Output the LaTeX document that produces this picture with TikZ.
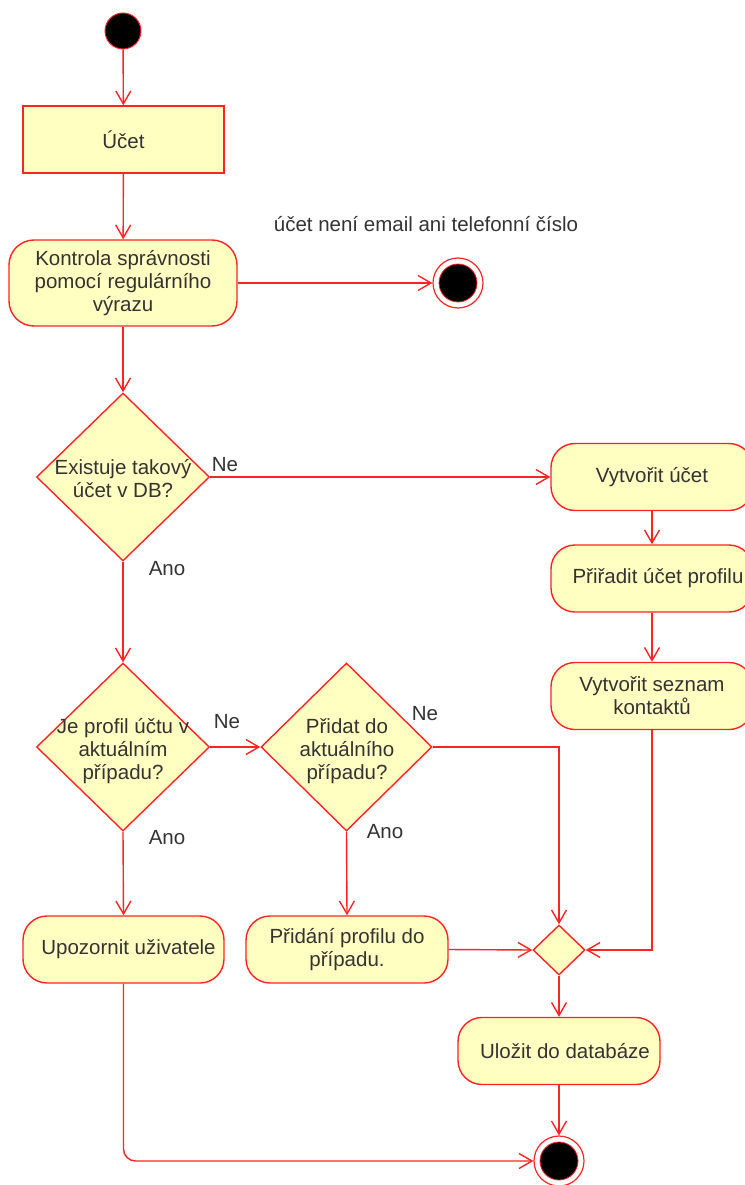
\documentclass[tikz,border=0pt]{standalone}
\usepackage{fontspec}
\setmainfont{Liberation Sans}
\usetikzlibrary{arrows.meta,shapes.geometric,calc}
\definecolor{umlred}{RGB}{255,36,36}
\definecolor{umlfill}{RGB}{255,255,194}
\definecolor{umltext}{RGB}{51,51,51}

\begin{document}
\begin{tikzpicture}[x=1pt,y=-1pt,
  every node/.style={font=\fontsize{20.5}{23}\selectfont, text=umltext},
  flow/.style={draw=umlred, line width=1.4pt,
    -{Straight Barb[length=13pt,width=15pt,line width=1.4pt]}},
  action/.style={draw=umlred, fill=umlfill, line width=1.4pt,
    rounded corners=24pt, minimum width=202pt, minimum height=67pt,
    align=center, inner sep=0pt},
  plainbox/.style={action, rounded corners=0pt},
  decision/.style={diamond, draw=umlred, fill=umlfill, line width=1.4pt,
    minimum width=173pt, minimum height=168pt, inner sep=0pt},
  merger/.style={diamond, draw=umlred, fill=umlfill, line width=1.4pt,
    minimum width=52pt, minimum height=50pt, inner sep=0pt},
  dtext/.style={align=center, inner sep=0pt},
  initial/.style={circle, draw=umlred, fill=black, line width=1pt,
    minimum size=36pt, inner sep=0pt},
  finalring/.style={circle, draw=umlred, fill=white, line width=1.2pt,
    minimum size=50pt, inner sep=0pt},
  finalcore/.style={circle, draw=umlred, fill=black, line width=0.8pt,
    minimum size=38pt, inner sep=0pt},
  guard/.style={inner sep=0pt}
]
\useasboundingbox (0,0) rectangle (744,1185);

% start and first actions
\node[initial] (start) at (123,31) {};
\node[plainbox, minimum width=201pt] (ucet) at (123.5,139.5) {Účet};
\node[action, minimum width=228pt, minimum height=86pt, rounded corners=25pt]
  (kontrola) at (123,283) {Kontrola správnosti\\pomocí regulárního\\výrazu};

% early exit
\node[finalring] (end1) at (458,283) {};
\node[finalcore] (end1c) at (458,283) {};
\node (note) at (426,224) {účet není email ani telefonní číslo};

% first decision
\node[decision] (d1) at (123,477) {};
\node[dtext] (d1t) at (123,479) {Existuje takový\\účet v DB?};

% new account branch
\node[action] (vu) at (652,477) {Vytvořit účet};
\node[action] (pu) at (652,578.5) {\hspace*{12pt}Přiřadit účet profilu};
\node[action] (vsk) at (652,696) {Vytvořit seznam\\kontaktů};

% second and third decisions
\node[decision] (d2) at (123,747) {};
\node[dtext] (d2t) at (123,751) {Je profil účtu v\\aktuálním\\případu?};
\node[decision, minimum width=171pt] (d3) at (346.5,747) {};
\node[dtext] (d3t) at (347,751) {Přidat do\\aktuálního\\případu?};

% lower actions
\node[action, minimum width=201pt] (upo) at (123.5,949.5) {\hspace*{10pt}Upozornit uživatele};
\node[action] (prid) at (347,949.5) {Přidání profilu do\\případu.};
\node[merger] (merge) at (559,950) {};
\node[action] (ulo) at (559,1051) {\hspace*{12pt}Uložit do databáze};
\node[finalring] (end2) at (559,1161) {};
\node[finalcore] (end2c) at (559,1161) {};

% guard labels
\node[guard] (g1) at (225,465) {Ne};
\node[guard] (g2) at (167,569) {Ano};
\node[guard] (g3) at (227,722) {Ne};
\node[guard] (g4) at (167,838) {Ano};
\node[guard] (g5) at (425,714) {Ne};
\node[guard] (g6) at (385,832) {Ano};

% control flow
\draw[flow] (start) -- (ucet);
\draw[flow] (ucet) -- (kontrola);
\draw[flow] (kontrola.east) -- (end1.west);
\draw[flow] (kontrola) -- (d1);
\draw[flow] (d1.east) -- (vu.west);
\draw[flow] (vu) -- (pu);
\draw[flow] (pu) -- (vsk);
\draw[flow] (d1.south) -- (d2.north);
\draw[flow] (d2.east) -- (d3.west);
\draw[flow] (d2.south) -- (upo.north);
\draw[flow] (d3.south) -- (prid.north);
\draw[flow] (d3.east) -| (merge.north);
\draw[flow] (prid.east) -- (merge.west);
\draw[flow] (vsk.south) |- (merge.east);
\draw[flow] (merge.south) -- (ulo.north);
\draw[flow] (ulo.south) -- (end2.north);
\draw[flow, rounded corners=12pt] (upo.south) |- (end2.west);
\end{tikzpicture}
\end{document}
